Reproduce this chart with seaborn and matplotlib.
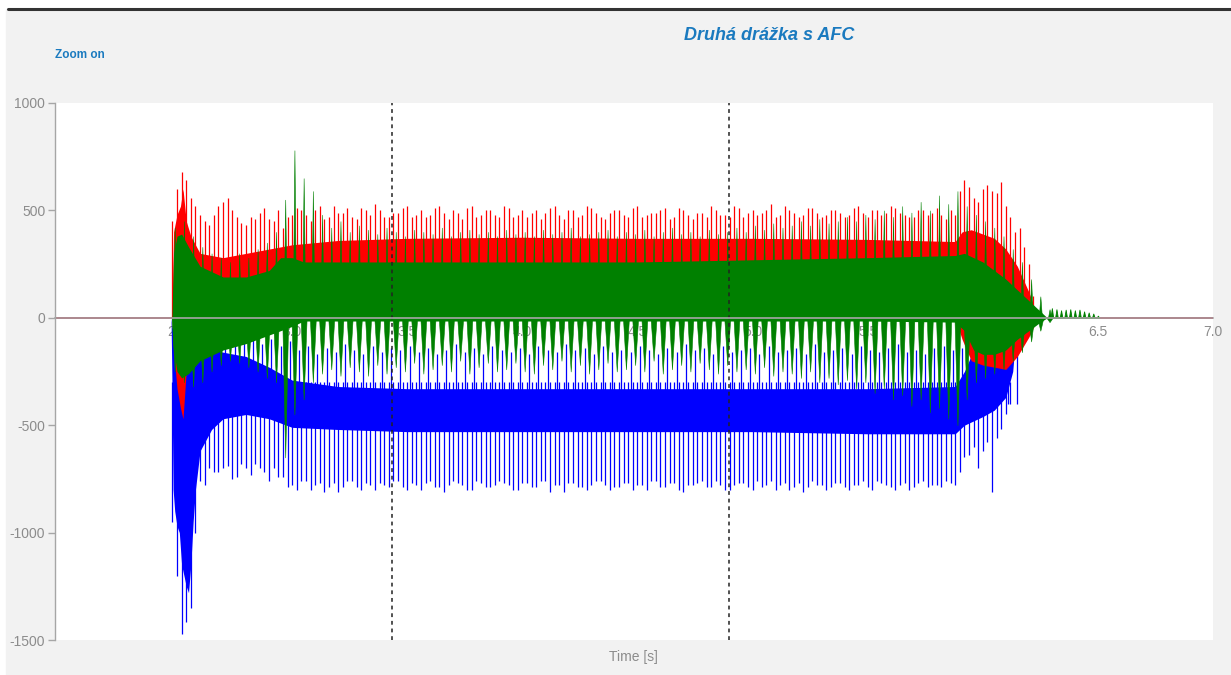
import numpy as np
import pandas as pd
import matplotlib
matplotlib.use("Agg")
import matplotlib.pyplot as plt
from matplotlib.patches import Rectangle
from matplotlib.lines import Line2D
import seaborn as sns

# ---------------- data ----------------
title = "Druhá drážka s AFC"
x_label = "Time [s]"
x_ticks = [2.5, 3.0, 3.5, 4.0, 4.5, 5.0, 5.5, 6.0, 6.5, 7.0]
x_tick_labels = ["2.5", "3.0", "3.5", "4.0", "4.5", "5.0", "5.5", "6.0", "6.5", "7.0"]
y_ticks = [1000, 500, 0, -500, -1000, -1500]
cursor_times = [3.435, 4.896]
signal_start, signal_end = 2.478, 6.28
time_range = (1.97, 7.0)

# dense core band of each channel (envelope knots)
red_t = [2.478, 2.485, 2.50, 2.515, 2.526, 2.54, 2.56, 2.60, 2.70, 2.80, 2.90, 3.00, 3.20, 3.50,
         4.00, 4.50, 5.00, 5.50, 5.88, 5.91, 5.95, 6.00, 6.05, 6.10, 6.15, 6.20, 6.24]
red_hi = [0, 400, 480, 520, 600, 450, 380, 300, 280, 300, 320, 340, 360, 370,
          375, 370, 370, 365, 355, 400, 410, 390, 370, 320, 240, 120, 0]
red_lo = [0, -150, -330, -420, -470, -250, -60, 0, 0, 0, 0, 0, 0, 0,
          0, 0, 0, 0, 0, -100, -200, -220, -230, -240, -180, -90, 0]

green_t = [2.478, 2.485, 2.50, 2.52, 2.55, 2.60, 2.70, 2.80, 2.90, 2.95, 3.00, 3.05, 3.20, 3.50,
           4.00, 4.50, 5.00, 5.50, 5.88, 5.92, 5.96, 6.00, 6.05, 6.10, 6.15, 6.20, 6.25, 6.28]
green_hi = [0, 300, 380, 390, 330, 240, 190, 190, 220, 280, 280, 260, 260, 260,
            260, 260, 270, 280, 290, 300, 280, 260, 220, 180, 130, 80, 30, 0]
green_lo = [0, -150, -250, -280, -260, -200, -150, -120, -80, -60, -40, -15, -15, -15,
            -15, -15, -15, -15, -20, -60, -150, -170, -170, -150, -100, -60, -20, 0]

blue_t = [2.474, 2.478, 2.483, 2.49, 2.50, 2.51, 2.52, 2.53, 2.54, 2.55, 2.56, 2.57, 2.58, 2.60,
          2.65, 2.70, 2.80, 2.90, 3.00, 3.20, 3.50, 4.00, 4.50, 5.00, 5.50, 5.88, 5.92, 5.96,
          6.00, 6.05, 6.10, 6.13, 6.15]
blue_lo = [0, -300, -800, -900, -970, -1000, -1150, -1200, -1250, -1280, -1150, -950, -800, -620,
           -520, -470, -450, -470, -510, -520, -530, -530, -530, -530, -540, -540, -500, -480,
           -460, -430, -370, -250, 0]
blue_hi = [0, -40, -60, -70, -80, -90, -100, -110, -115, -120, -125, -130, -135, -140,
           -150, -160, -180, -230, -290, -320, -330, -330, -330, -330, -330, -320, -250, -150,
           -120, -120, -120, -100, 0]

# spike tips on the 0.04 s sample grid starting at 2.48 s
red_up = [450, 680, 560, 480, 430, 520, 560, 470, 430, 460, 510, 450, 420,
          480, 500, 450, 520, 470, 490, 510, 460, 500, 530, 470, 490,
          510, 470, 500, 480, 520, 460, 490, 510, 470, 500, 480, 520,
          470, 500, 490, 460, 510, 480, 500, 470, 520, 490, 460, 500,
          480, 510, 470, 490, 500, 460, 510, 480, 490, 470, 500, 480,
          520, 470, 500, 490, 530, 480, 500, 470, 510, 490, 480, 500,
          470, 510, 490, 500, 480, 520, 490, 470, 500, 480, 510, 460,
          480, 640, 560, 600, 590, 630, 470, 420, 250, 0, 0]
green_up = [420, 450, 380, 330, 300, 280, 260, 300, 280, 320, 350, 400, 550,
            780, 650, 590, 480, 420, 450, 400, 430, 410, 390, 420, 400,
            380, 410, 400, 390, 420, 380, 400, 410, 390, 400, 380, 410,
            390, 400, 380, 410, 390, 400, 420, 380, 390, 400, 410, 380,
            400, 390, 410, 380, 400, 420, 390, 400, 380, 410, 390, 400,
            420, 400, 430, 410, 440, 420, 430, 450, 430, 460, 440, 450,
            470, 450, 480, 460, 500, 470, 520, 490, 540, 500, 570, 530,
            590, 520, 480, 450, 420, 380, 320, 260, 180, 100, 40]
green_down = [-250, -300, -320, -300, -250, -220, -200, -210, -230, -250, -280, -300, -650,
              -450, -380, -300, -260, -240, -270, -230, -250, -270, -220, -260, -230,
              -250, -210, -260, -240, -220, -250, -200, -260, -230, -210, -250, -240,
              -210, -250, -260, -220, -240, -200, -250, -220, -260, -240, -210, -250,
              -240, -220, -250, -200, -260, -240, -220, -250, -210, -240, -260, -220,
              -250, -240, -260, -230, -270, -250, -260, -280, -250, -300, -280, -310,
              -290, -330, -300, -350, -330, -380, -360, -410, -380, -440, -420, -470,
              -500, -380, -300, -280, -260, -240, -200, -160, -110, -60, -20]
blue_down = [-950, -1470, -1350, -760, -700, -720, -690, -740, -700, -680, -720, -700, -740,
             -780, -760, -800, -770, -790, -810, -760, -790, -770, -800, -780, -760,
             -790, -770, -800, -760, -790, -780, -770, -800, -760, -790, -780, -770,
             -800, -770, -790, -760, -810, -780, -770, -790, -800, -760, -780, -790,
             -770, -800, -780, -760, -790, -770, -800, -780, -770, -790, -760, -800,
             -780, -770, -800, -790, -760, -780, -800, -770, -790, -780, -800, -770,
             -790, -780, -760, -800, -770, -790, -780, -800, -770, -790, -780, -760,
             -780, -650, -600, -620, -810, -520, -400, -100, 0, 0, 0]
blue_up = [-30, -40, -60, -90, -70, -100, -80, -110, -90, -120, -100, -130, -110,
           -150, -130, -170, -140, -160, -120, -150, -170, -130, -160, -140, -150,
           -130, -160, -140, -170, -150, -120, -160, -140, -170, -130, -150, -160,
           -140, -170, -130, -150, -160, -120, -150, -140, -170, -130, -160, -150,
           -160, -130, -150, -170, -140, -160, -120, -150, -140, -170, -130, -160,
           -150, -140, -170, -130, -160, -150, -140, -170, -120, -160, -150, -140,
           -170, -130, -150, -160, -140, -120, -160, -150, -170, -140, -130, -150,
           -140, -110, -100, -90, -110, -100, -90, 0, 0, 0, 0]

# spike tips half-way between the samples above (grid starting at 2.50 s)
red_up_mid = [600, 640, 520, 450, 480, 540, 500, 440, 470, 490, 460, 500,
              470, 510, 480, 500, 460, 520, 490, 470, 510, 480, 500, 470,
              490, 520, 480, 470, 510, 490, 500, 460, 520, 480, 500, 470,
              510, 480, 470, 500, 490, 520, 460, 500, 480, 510, 470, 490,
              500, 470, 520, 480, 490, 510, 470, 500, 460, 490, 520, 480,
              470, 510, 490, 480, 500, 470, 520, 490, 480, 510, 470, 500,
              490, 480, 520, 470, 500, 490, 510, 480, 470, 500, 490, 480,
              500, 590, 610, 540, 620, 580, 520, 400, 330, 100, 0]
blue_down_mid = [-1200, -1414, -1000, -780, -720, -700, -750, -680, -730, -700, -760, -740,
                 -790, -800, -760, -780, -810, -770, -790, -760, -800, -780, -770, -790,
                 -760, -800, -780, -770, -790, -810, -760, -780, -800, -770, -790, -760,
                 -780, -800, -770, -790, -760, -780, -810, -770, -790, -780, -760, -800,
                 -790, -770, -780, -800, -760, -790, -770, -810, -780, -760, -790, -780,
                 -800, -770, -790, -760, -780, -800, -770, -790, -810, -760, -780, -790,
                 -770, -800, -780, -790, -760, -780, -800, -770, -790, -760, -780, -790,
                 -770, -720, -640, -700, -580, -560, -450, -300, 0, 0, 0]

# decaying ringing of the green channel after the cut
tail_t = [6.30, 6.32, 6.34, 6.36, 6.38, 6.40, 6.42, 6.44, 6.46, 6.48, 6.50]
green_tail = [45, 40, 35, 38, 40, 35, 38, 30, 25, 20, 10]

# sampling grids (0.04 s period, channels sampled with a phase offset)
grid_main = np.round(2.48 + 0.04 * np.arange(len(red_up)), 3)
grid_mid = np.round(2.50 + 0.04 * np.arange(len(red_up_mid)), 3)
grid_green = grid_main + 0.01
grid_blue_up = grid_main + 0.03

RED, GREEN, BLUE = "#ff0000", "#008000", "#0000ff"
GRAY = "#8c8c8c"

# ---------------- figure ----------------
sns.set_style("white")
plt.rcParams["font.family"] = ["Liberation Sans", "DejaVu Sans"]

fig = plt.figure(figsize=(12.31, 6.75), dpi=100)
fig.patch.set_facecolor("white")
fig.add_artist(Rectangle((6 / 1231, 0), 1 - 6 / 1231, 1 - 9 / 675,
                         transform=fig.transFigure, color="#f2f2f2", zorder=-10))
fig.add_artist(Line2D([8 / 1231, 1], [1 - 8.5 / 675, 1 - 8.5 / 675],
                      transform=fig.transFigure, color="#333333", lw=2.2))

ax = fig.add_axes([55 / 1231, 1 - 640 / 675, (1213 - 55) / 1231, (640 - 103) / 675])
ax.set_facecolor("white")
ax.set_axisbelow(True)


def wedges(t, tips, half):
    t = np.asarray(t, float)
    tips = np.asarray(tips, float)
    xs = np.column_stack([t - half, t, t + half]).ravel()
    ys = np.column_stack([np.zeros_like(tips), tips, np.zeros_like(tips)]).ravel()
    return xs, ys


# flat signal before and after the event
flat = pd.DataFrame({
    "t": [time_range[0], signal_start, signal_end, time_range[1]] * 3,
    "v": [0, 0, 0, 0] * 3,
    "seg": ["a", "a", "b", "b"] * 3,
    "ch": ["green"] * 4 + ["blue"] * 4 + ["red"] * 4,
})
sns.lineplot(data=flat, x="t", y="v", hue="ch", units="seg", estimator=None,
             palette={"red": RED, "green": GREEN, "blue": BLUE}, lw=1.2,
             legend=False, ax=ax, zorder=2)

# blue channel
bd = np.asarray(blue_down, float)
bdm = np.asarray(blue_down_mid, float)
bu = np.asarray(blue_up, float)
ax.fill_between(blue_t, blue_lo, blue_hi, color=BLUE, lw=0, zorder=2)
ax.vlines(grid_main, bd, np.maximum(bd, -300), color=BLUE, lw=0.9, zorder=2)
ax.vlines(grid_mid, bdm, np.maximum(bdm, -300), color=BLUE, lw=0.9, zorder=2)
ax.vlines(grid_blue_up, np.where(bu < 0, -400, 0), bu, color=BLUE, lw=0.9, zorder=2)

# red channel
ax.fill_between(red_t, red_lo, red_hi, color=RED, lw=0, zorder=3)
ax.vlines(grid_main, 0, red_up, color=RED, lw=0.9, zorder=3)
ax.vlines(grid_mid, 0, red_up_mid, color=RED, lw=0.9, zorder=3)

# green channel
ax.fill_between(green_t, green_lo, green_hi, color=GREEN, lw=0, zorder=4)
gx, gy = wedges(grid_green, green_up, 0.007)
ax.fill_between(gx, 0, gy, color=GREEN, lw=0.4, edgecolor=GREEN, zorder=4)
gx, gy = wedges(grid_green, green_down, 0.013)
ax.fill_between(gx, 0, gy, color=GREEN, lw=0.4, edgecolor=GREEN, zorder=4)
tx, ty = wedges(tail_t, green_tail, 0.006)
ax.fill_between(tx, 0, ty, color=GREEN, lw=0.6, edgecolor=GREEN, zorder=4)

# cursors
for ct in cursor_times:
    ax.axvline(ct, color="#222222", lw=1.1, ls=(0, (2.5, 2.5)), zorder=6)

# axes styling
ax.set_xlim(*time_range)
ax.set_ylim(-1500, 1000)
ax.set_xticks(x_ticks)
ax.set_xticklabels(x_tick_labels)
ax.set_yticks(y_ticks)
ax.set_yticklabels([str(v) for v in y_ticks])
ax.set_xlabel("")
ax.set_ylabel("")
for s in ["top", "right"]:
    ax.spines[s].set_visible(False)
ax.spines["bottom"].set_position(("data", 0))
ax.spines["bottom"].set_color("#a6a6a6")
ax.spines["bottom"].set_linewidth(1.2)
ax.spines["bottom"].set_zorder(7)
ax.spines["left"].set_color("#a6a6a6")
ax.spines["left"].set_linewidth(1.0)
ax.tick_params(axis="x", length=0, pad=5, labelsize=10, labelcolor=GRAY)
ax.tick_params(axis="y", left=True, length=5, width=1, color="#a6a6a6", pad=2,
               labelsize=10, labelcolor=GRAY)

# texts
fig.text(769 / 1231, 1 - 35 / 675, title, ha="center", va="center", fontsize=13,
         fontweight="bold", fontstyle="italic", color="#1a7abf")
fig.text(55 / 1231, 1 - 55 / 675, "Zoom on", ha="left", va="center", fontsize=8.5,
         fontweight="bold", color="#1a7abf")
fig.text(633 / 1231, 1 - 657 / 675, x_label, ha="center", va="center", fontsize=10,
         color=GRAY)

fig.savefig("out.png", dpi=100, facecolor=fig.get_facecolor())
